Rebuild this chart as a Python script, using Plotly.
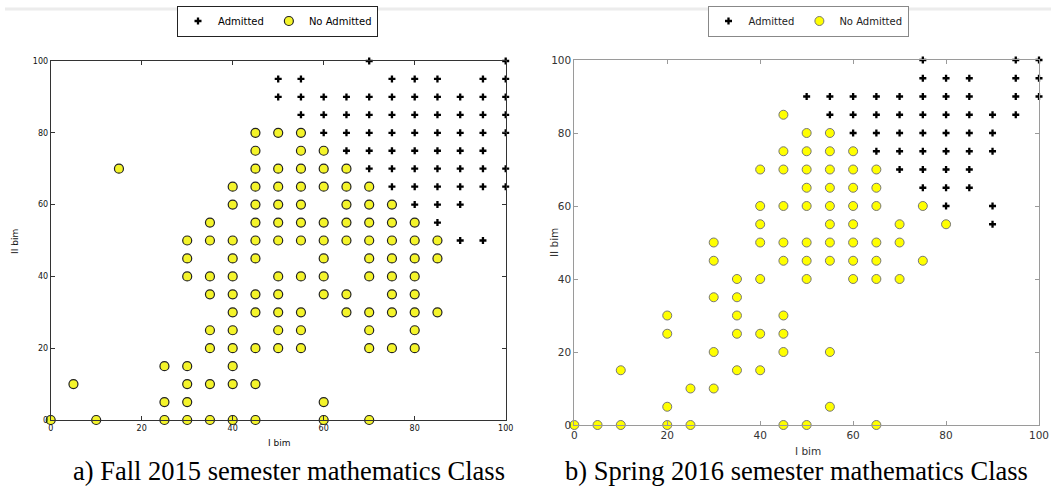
import plotly.graph_objects as go

# ---------------- DATA ----------------
# Fall 2015: column (I bim) -> list of II bim values
fall_admitted = {
    50: [95, 90],
    55: [95, 90, 85],
    60: [90, 85, 80],
    65: [90, 85, 80, 75],
    70: [100, 90, 85, 80, 75, 70],
    75: [95, 90, 85, 80, 75, 70, 65],
    80: [95, 90, 85, 80, 75, 70, 65, 60],
    85: [95, 90, 85, 80, 75, 70, 65, 60, 55],
    90: [90, 85, 80, 75, 70, 65, 60, 50],
    95: [95, 90, 85, 80, 75, 70, 65, 50],
    100: [100, 95, 90, 85, 80, 70, 65],
}
fall_not_admitted = {
    0: [0],
    5: [10],
    10: [0],
    15: [70],
    25: [15, 5, 0],
    30: [50, 45, 40, 15, 10, 5, 0],
    35: [55, 50, 40, 35, 25, 20, 10, 0],
    40: [65, 60, 50, 45, 40, 35, 30, 25, 20, 15, 10, 0],
    45: [80, 75, 70, 65, 60, 55, 50, 45, 35, 30, 20, 10, 0],
    50: [80, 70, 65, 60, 55, 50, 40, 35, 30, 25, 20],
    55: [80, 75, 70, 65, 60, 55, 50, 40, 30, 25, 20],
    60: [75, 70, 65, 55, 50, 45, 40, 35, 5, 0],
    65: [70, 65, 60, 55, 50, 35, 30],
    70: [65, 60, 55, 50, 45, 40, 30, 25, 20, 0],
    75: [60, 55, 50, 45, 40, 35, 30, 20],
    80: [55, 50, 45, 40, 35, 30, 25, 20],
    85: [50, 45, 30],
}
# Spring 2016
spring_admitted = {
    50: [90],
    55: [90, 85],
    60: [90, 85, 80],
    65: [90, 85, 80, 75],
    70: [90, 85, 80, 75, 70],
    75: [100, 95, 90, 85, 80, 75, 70, 65],
    80: [95, 90, 85, 80, 75, 70, 65, 60],
    85: [95, 90, 85, 80, 75, 70, 65],
    90: [85, 80, 75, 60, 55],
    95: [100, 95, 90, 85],
    100: [100, 95, 90],
}
spring_not_admitted = {
    0: [0],
    5: [0],
    10: [15, 0],
    20: [30, 25, 5, 0],
    25: [10, 0],
    30: [50, 45, 35, 20, 10],
    35: [40, 35, 30, 25, 15],
    40: [70, 60, 55, 50, 40, 25, 15],
    45: [85, 75, 70, 60, 50, 45, 30, 25, 20, 0],
    50: [80, 75, 70, 65, 60, 50, 45, 40, 0],
    55: [80, 75, 70, 65, 60, 55, 50, 45, 20, 5],
    60: [75, 70, 65, 60, 55, 50, 45, 40],
    65: [70, 65, 60, 50, 45, 40, 0],
    70: [55, 50, 40],
    75: [60, 45],
    80: [55],
}
tick_values = [0, 20, 40, 60, 80, 100]
series_names = ["Admitted", "No Admitted"]
x_title = "I bim"
y_title = "II bim"
captions = ["a) Fall 2015 semester mathematics Class",
            "b) Spring 2016 semester mathematics Class"]


def expand(cols):
    xs, ys = [], []
    for x, yl in cols.items():
        for y in yl:
            xs.append(x)
            ys.append(y)
    return xs, ys


W, H = 1051, 490


def px_x(p):
    return p / W


def px_y(p):
    return 1 - p / H


cross_marker = dict(symbol="cross-thin", size=5, color="black",
                    line=dict(width=2.3, color="black"))

fig = go.Figure()

# ---------------- Left panel ----------------
fx, fy = expand(fall_admitted)
fig.add_trace(go.Scatter(
    x=fx, y=fy, mode="markers", name=series_names[0], xaxis="x", yaxis="y",
    marker=cross_marker, cliponaxis=False, legend="legend"))
fx, fy = expand(fall_not_admitted)
fig.add_trace(go.Scatter(
    x=fx, y=fy, mode="markers", name=series_names[1], xaxis="x", yaxis="y",
    marker=dict(symbol="circle", size=9, color="#f4f42a",
                line=dict(width=1.2, color="#222222")),
    cliponaxis=False, legend="legend"))

# ---------------- Right panel ----------------
sx, sy = expand(spring_admitted)
fig.add_trace(go.Scatter(
    x=sx, y=sy, mode="markers", name=series_names[0], xaxis="x2", yaxis="y2",
    marker=cross_marker, cliponaxis=False, legend="legend2"))
sx, sy = expand(spring_not_admitted)
fig.add_trace(go.Scatter(
    x=sx, y=sy, mode="markers", name=series_names[1], xaxis="x2", yaxis="y2",
    marker=dict(symbol="circle", size=9, color="#ffff00",
                line=dict(width=1, color="#777777")),
    cliponaxis=False, legend="legend2"))

left_ax = dict(range=[0, 100], showline=True, linecolor="#333333", linewidth=1,
               mirror="ticks", ticks="inside", ticklen=4, tickcolor="#333333",
               tickvals=tick_values, showgrid=False, zeroline=False,
               automargin=False,
               tickfont=dict(family="DejaVu Sans", size=8, color="#111111"))
right_ax = dict(range=[0, 100], showline=True, linecolor="#9a9a9a", linewidth=1,
                mirror="ticks", ticks="inside", ticklen=4, tickcolor="#9a9a9a",
                tickvals=tick_values, showgrid=False, zeroline=False,
                automargin=False,
                tickfont=dict(family="DejaVu Sans", size=10.5, color="#333333"))

fig.update_layout(
    width=W, height=H, autosize=False,
    margin=dict(l=0, r=0, t=0, b=0, pad=0),
    paper_bgcolor="white", plot_bgcolor="white",
    xaxis=dict(domain=[px_x(50.7), px_x(505.7)], anchor="y", **left_ax),
    yaxis=dict(domain=[px_y(420), px_y(61)], anchor="x", **left_ax),
    xaxis2=dict(domain=[px_x(574.3), px_x(1039)], anchor="y2", **right_ax),
    yaxis2=dict(domain=[px_y(425), px_y(60)], anchor="x2", **right_ax),
    legend=dict(orientation="h", x=px_x(277.5), xanchor="center",
                y=px_y(21), yanchor="middle", bgcolor="white",
                bordercolor="#222222", borderwidth=1,
                font=dict(family="DejaVu Sans", size=10, color="black"),
                itemwidth=30, tracegroupgap=0),
    legend2=dict(orientation="h", x=px_x(808), xanchor="center",
                 y=px_y(21), yanchor="middle", bgcolor="white",
                 bordercolor="#888888", borderwidth=1,
                 font=dict(family="DejaVu Sans", size=10, color="#222222"),
                 itemwidth=30, tracegroupgap=0),
    showlegend=True,
)


def txt(xp, yp, text, size, color, family="DejaVu Sans", angle=0):
    return dict(x=px_x(xp), y=px_y(yp), xref="paper", yref="paper", text=text,
                showarrow=False, xanchor="center", yanchor="middle",
                textangle=angle, font=dict(family=family, size=size, color=color))


ann = [
    txt(279, 443, x_title, 9, "#111"),
    txt(15, 242, y_title, 9, "#111", angle=-90),
    txt(808, 451, x_title, 10.5, "#333"),
    txt(554, 243, y_title, 10.5, "#333", angle=-90),
    txt(289, 471, captions[0], 26.5, "black", family="Liberation Serif"),
    txt(796, 471, captions[1], 26.5, "black", family="Liberation Serif"),
]
fig.update_layout(annotations=ann)

# faint band at the very top of the picture
fig.add_shape(type="line", xref="paper", yref="paper", x0=px_x(5), x1=1,
              y0=px_y(9), y1=px_y(9), line=dict(color="#ececec", width=3))

fig.write_html("out.html",
               config={"displayModeBar": False},
               post_script="document.body.style.margin='0px';"
                           "document.body.style.overflow='hidden';")
